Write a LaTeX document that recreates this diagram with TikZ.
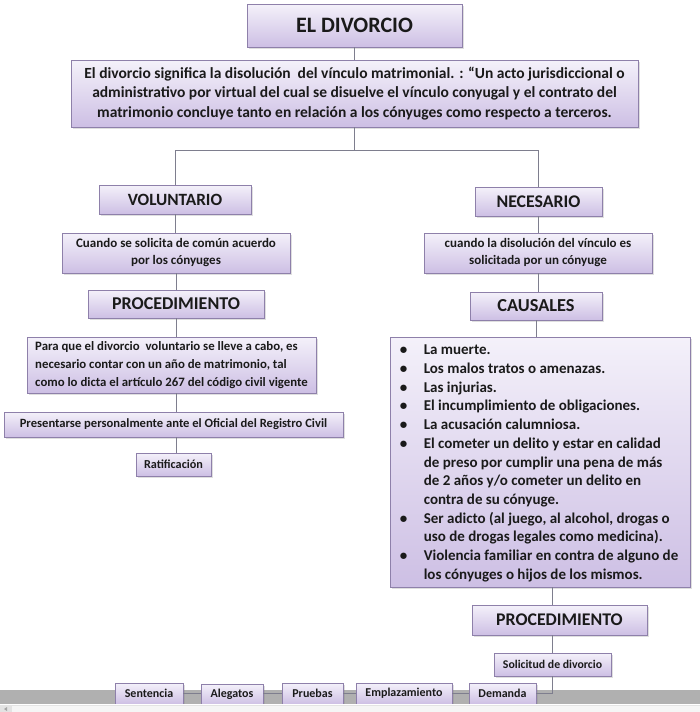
\documentclass[tikz,border=0pt]{standalone}
\usepackage{fontspec}
\setmainfont{Carlito}
\usetikzlibrary{shadows,calc}
\definecolor{boxtop}{HTML}{F4F1FA}
\definecolor{boxbot}{HTML}{CDBFE4}
\definecolor{boxline}{HTML}{8E80AA}
\definecolor{conn}{HTML}{7E7E8E}
\definecolor{txt}{HTML}{1A1A1A}
\begin{document}
\begin{tikzpicture}[x=1pt,y=-1pt,
  box/.style={draw=boxline, line width=0.8pt, top color=boxtop, bottom color=boxbot,
    drop shadow={opacity=0.25, shadow xshift=1.5pt, shadow yshift=-1.5pt},
    inner sep=0pt, align=center, text=txt},
  link/.style={draw=conn, line width=0.8pt}]
\useasboundingbox (0,0) rectangle (700,712);
\fill[white] (0,0) rectangle (700,712);
% dark band at the bottom
\fill[gray!62] (0,690) rectangle (700,703.5);

% nodes
\node[box, minimum width=215, minimum height=43, font=\fontsize{22}{24}\selectfont\bfseries] (title) at (354.5,25.5) {EL DIVORCIO};
\node[box, minimum width=567, minimum height=67, font=\fontsize{15.5}{19.6}\selectfont\bfseries] (def) at (354.5,93.5)
  {El divorcio significa la disolución\ \ del vínculo matrimonial. : “Un acto jurisdiccional o\\
   administrativo por virtual del cual se disuelve el vínculo conyugal\ y el contrato del\\
   matrimonio concluye tanto en relación a los cónyuges\ como respecto a terceros.};

\node[box, minimum width=152, minimum height=29, font=\fontsize{17.2}{19}\selectfont\bfseries] (vol) at (175,199.5) {VOLUNTARIO};
\node[box, minimum width=127, minimum height=29, font=\fontsize{17.8}{19}\selectfont\bfseries] (nec) at (538.5,201.5) {NECESARIO};

\node[box, minimum width=228, minimum height=40, font=\fontsize{13}{17}\selectfont\bfseries] (cua1) at (176,253)
  {Cuando se solicita de común acuerdo\\ por los cónyuges};
\node[box, minimum width=228, minimum height=40, font=\fontsize{13}{17}\selectfont\bfseries] (cua2) at (538,253)
  {cuando la disolución del vínculo es\\ solicitada por un cónyuge};

\node[box, minimum width=176, minimum height=28, font=\fontsize{18}{19}\selectfont\bfseries] (proc1) at (176,304) {PROCEDIMIENTO};
\node[box, minimum width=132, minimum height=28, font=\fontsize{18.3}{19}\selectfont\bfseries] (caus) at (536,306) {CAUSALES};

\node[box, minimum width=289, minimum height=56, align=left, font=\fontsize{12.8}{18}\selectfont\bfseries] (para) at (171.5,365)
  {Para que el divorcio\ \ voluntario se lleve a cabo, es\\
   necesario contar con un año de matrimonio, tal\\
   como lo dicta el artículo 267 del código civil vigente};
\node[box, minimum width=339, minimum height=25, font=\fontsize{12.6}{16}\selectfont\bfseries] (pres) at (173.5,424.5)
  {Presentarse personalmente ante el Oficial del Registro Civil};
\node[box, minimum width=75, minimum height=23, font=\fontsize{12.2}{14}\selectfont\bfseries] (rat) at (173.5,464.5) {Ratificación};

\node[box, minimum width=300, minimum height=250] (list) at (540,462) {};
\node[anchor=north west, inner sep=0pt, text=txt, font=\fontsize{15}{18.7}\selectfont\bfseries]
  (listtext) at ($(list.north west)+(10,5)$)
  {\begin{tabular}{@{}p{24pt}@{}l@{}}
   \textbullet & La muerte.\\
   \textbullet & Los malos tratos o amenazas.\\
   \textbullet & Las injurias.\\
   \textbullet & El incumplimiento de obligaciones.\\
   \textbullet & La acusación calumniosa.\\
   \textbullet & El cometer un delito y estar en calidad\\
               & de preso por cumplir una pena de más\\
               & de 2 años y/o cometer un delito en\\
               & contra de su cónyuge.\\
   \textbullet & Ser adicto (al juego, al alcohol, drogas o\\
               & uso de drogas legales como medicina).\\
   \textbullet & Violencia familiar en contra de alguno de\\
               & los cónyuges o hijos de los mismos.
   \end{tabular}};

\node[box, minimum width=175, minimum height=30, font=\fontsize{17.8}{19}\selectfont\bfseries] (proc2) at (559.5,620) {PROCEDIMIENTO};
\node[box, minimum width=117, minimum height=23, font=\fontsize{11.8}{14}\selectfont\bfseries] (sol) at (552.5,664.5) {Solicitud de divorcio};

\tikzset{small/.style={box, minimum height=21, font=\fontsize{12}{14}\selectfont\bfseries}}
\node[small, minimum width=67] (dem) at (502.5,693.5) {Demanda};
\node[small, minimum width=96] (empl) at (404,693.5) {Emplazamiento};
\node[small, minimum width=61] (prue) at (312.5,693.5) {Pruebas};
\node[small, minimum width=62] (aleg) at (232,694.5) {Alegatos};
\node[small, minimum width=68] (sent) at (149,693.5) {Sentencia};

% connectors
\draw[link] (title.south) -- (def.north);
\coordinate (split) at ($(def.south)+(0,23)$);
\draw[link] (def.south) -- (split);
\draw[link] (vol.north) -- (vol.north |- split) -- (split) -- (nec.north |- split) -- (nec.north);
\draw[link] (vol.south) -- (vol.south |- cua1.north);
\draw[link] (cua1.south) -- (cua1.south |- proc1.north);
\draw[link] (proc1.south) -- (proc1.south |- para.north);
\draw[link] (proc1.south |- para.south) -- (proc1.south |- pres.north);
\draw[link] (proc1.south |- pres.south) -- (proc1.south |- rat.north);
\draw[link] (nec.south) -- (nec.south |- cua2.north);
\draw[link] (cua2.south) -- (cua2.south |- caus.north);
\draw[link] (caus.south) -- (caus.south |- list.north);
\draw[link] (sol.north |- list.south) -- (sol.north |- proc2.north);
\draw[link] (sol.north |- proc2.south) -- (sol.north);
\draw[link] (sol.south) -- (sol.south |- dem.east) -- (dem.east);
\draw[link] (dem.west) -- (empl.east);
\draw[link] (empl.west) -- (prue.east);
\draw[link] (prue.west) -- (aleg.east |- prue.west);
\draw[link] (aleg.west |- sent.east) -- (sent.east);

% lower scroll bar
\fill[white] (0,703.5) rectangle (700,712);
\fill[gray!22] (0,705) rectangle (700,712);
\fill[gray!8] (12,706) rectangle (700,712);
\fill[gray!70] (7,707) -- (4,709) -- (7,711) -- cycle;
\end{tikzpicture}
\end{document}
